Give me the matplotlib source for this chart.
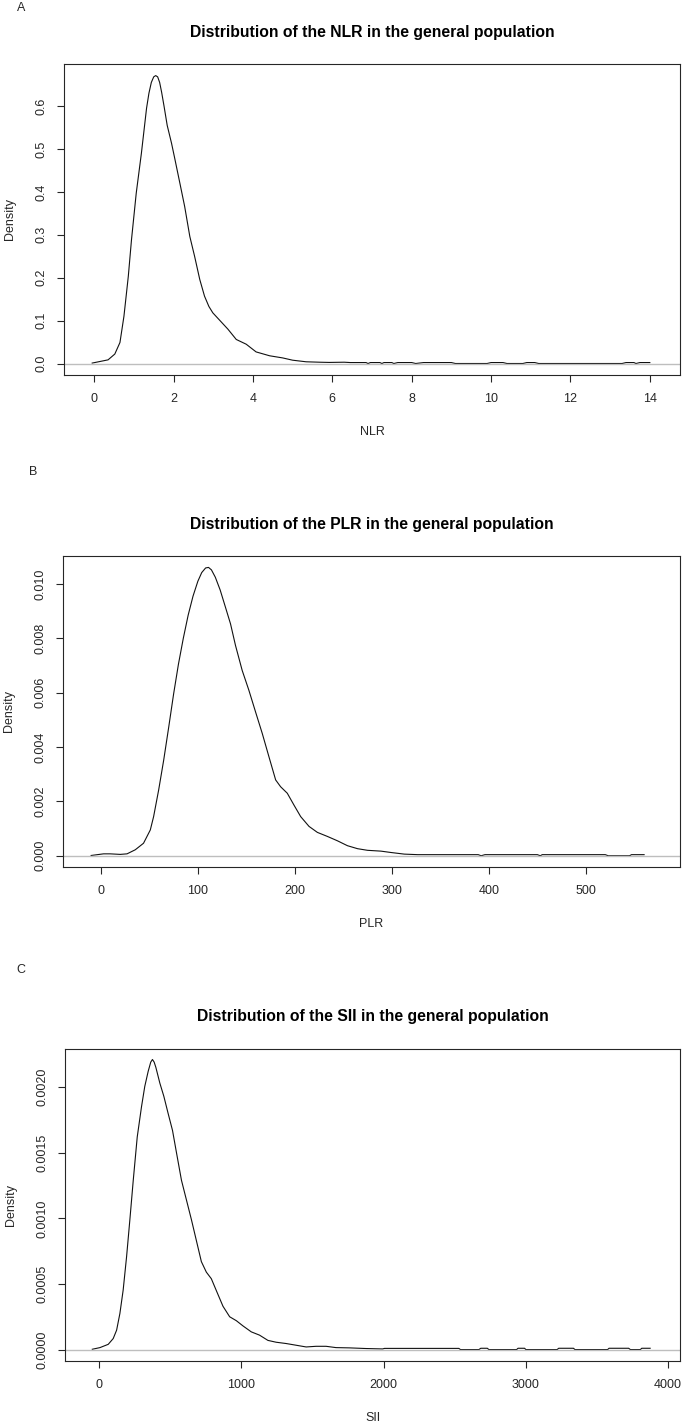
import matplotlib
matplotlib.use("Agg")
import matplotlib.pyplot as plt
import numpy as np

plt.rcParams['font.family'] = ['Liberation Sans', 'DejaVu Sans']

# density curves (main body + sparse tail)
nlr_x = [-0.05, 0.35, 0.52, 0.65, 0.75, 0.86, 0.94, 1.06, 1.19, 1.32, 1.38, 1.44, 1.50, 1.55,
         1.60, 1.65, 1.70, 1.76, 1.84, 1.95, 2.03, 2.16, 2.28, 2.41, 2.53, 2.66, 2.78, 2.89,
         2.99, 3.16, 3.37, 3.58, 3.83, 4.08, 4.42, 4.75, 5.0, 5.34, 5.68]
nlr_y = [0.001, 0.0085, 0.022, 0.049, 0.11, 0.203, 0.288, 0.397, 0.49, 0.595, 0.630, 0.655,
         0.668, 0.671, 0.668, 0.655, 0.632, 0.600, 0.555, 0.513, 0.478, 0.42, 0.366, 0.296,
         0.25, 0.196, 0.157, 0.133, 0.118, 0.101, 0.080, 0.056, 0.045, 0.027, 0.018, 0.013,
         0.0077, 0.004, 0.003]
nlr_tail_x = [5.92, 6.3, 6.45, 6.5, 6.85, 6.9, 6.96, 7.2, 7.25, 7.3, 7.5, 7.55, 7.65, 8.0, 8.1,
              8.3, 9.0, 9.1, 9.9, 10.0, 10.3, 10.4, 10.8, 10.9, 11.1, 11.2, 13.3, 13.4, 13.6,
              13.65, 13.75, 14.0]
nlr_tail_y = [0.0025, 0.003, 0.0022, 0.0022, 0.0022, 0.0, 0.0022, 0.0022, 0.0, 0.0022, 0.0022,
              0.0, 0.0022, 0.0022, 0.0, 0.0022, 0.0022, 0.0, 0.0, 0.0022, 0.0022, 0.0, 0.0,
              0.0022, 0.0022, 0.0, 0.0, 0.0022, 0.0022, 0.0, 0.0022, 0.0022]

plr_x = [-10, 2.8, 9.6, 20, 27, 35.5, 44, 51, 54.4, 59.6, 64.8, 70, 75, 80, 85, 90, 95,
         100, 104, 108, 111, 114, 118, 123, 128.5, 133.7, 138.8, 145.7, 152.6, 159.5, 166.4,
         173.3, 180.2, 185.3, 192.2, 199, 206, 214.6, 223.2, 233.6, 243.9, 254.2, 264.6,
         274.9, 288.7, 299, 312.8, 326.6]
plr_y = [0.00001, 0.00007, 0.00007, 0.00005, 0.00007, 0.00022, 0.00046, 0.00095, 0.00144,
         0.00242, 0.00352, 0.00474, 0.00595, 0.00705, 0.00800, 0.00885, 0.00955, 0.01010,
         0.01042, 0.01059, 0.01061, 0.01052, 0.01025, 0.00978, 0.00914, 0.00853, 0.00774,
         0.00682, 0.00609, 0.00529, 0.00450, 0.00364, 0.00279, 0.00254, 0.00230, 0.00187,
         0.00144, 0.00108, 0.00086, 0.00071, 0.00055, 0.00037, 0.00026, 0.00020, 0.00017,
         0.00012, 0.00006, 0.00004]
plr_tail_x = [340, 374, 389, 392, 396, 450, 453, 455, 520, 523, 545, 547, 560]
plr_tail_y = [0.00004, 0.00004, 0.00004, 0.0, 0.00004, 0.00004, 0.0, 0.00004, 0.00004, 0.0,
              0.0, 0.00004, 0.00004]

sii_x = [-49, 4.7, 63, 98, 122, 145, 168, 192, 215, 239, 267, 297, 320, 344, 362, 374, 386,
         398, 426, 454, 484, 515, 543, 578, 613, 648, 683, 718, 753, 788, 823, 870, 917, 964,
         1011, 1069, 1127, 1186, 1244, 1315, 1385, 1455, 1525, 1595, 1665, 1759, 1876, 1993]
sii_y = [0.0000025, 0.000015, 0.00004, 0.000084, 0.000148, 0.000275, 0.000453, 0.000707,
         0.000987, 0.00129, 0.00162, 0.00185, 0.002005, 0.00212, 0.00219, 0.00221, 0.00219,
         0.00215, 0.00203, 0.00193, 0.00180, 0.00167, 0.00150, 0.00129, 0.00114, 0.00099,
         0.00083, 0.00067, 0.00059, 0.00054, 0.00045, 0.00033, 0.00025, 0.00022, 0.00018,
         0.000135, 0.00011, 0.00007, 0.000056, 0.000046, 0.000033, 0.00002, 0.000025,
         0.000025, 0.000015, 0.000013, 0.000008, 0.000005]
sii_tail_x = [2006, 2529, 2540, 2670, 2683, 2729, 2740, 2935, 2945, 2991, 3000, 3220, 3231,
              3335, 3345, 3575, 3585, 3723, 3735, 3805, 3815, 3874]
sii_tail_y = [0.000009, 0.000009, 0.0, 0.0, 0.00001, 0.00001, 0.0, 0.0, 0.00001, 0.00001, 0.0,
              0.0, 0.00001, 0.00001, 0.0, 0.0, 0.00001, 0.00001, 0.0, 0.0, 0.00001, 0.00001]

panels = [
    # letter, name, x, y, tail x, tail y, xticks, yticks, ytick fmt, xlim, ylim, box (l, t, b px), letter pos
    ('A', 'NLR', nlr_x, nlr_y, nlr_tail_x, nlr_tail_y, np.arange(0, 15, 2),
     np.arange(0, 0.61, 0.1), '%.1f', (-0.76, 14.76), (-0.0268, 0.698), (64, 64, 375), (21, 8)),
    ('B', 'PLR', plr_x, plr_y, plr_tail_x, plr_tail_y, np.arange(0, 501, 100),
     np.arange(0, 0.0101, 0.002), '%.3f', (-39, 597), (-0.000414, 0.01103), (63, 556, 867), (33, 472)),
    ('C', 'SII', sii_x, sii_y, sii_tail_x, sii_tail_y, np.arange(0, 4001, 1000),
     np.arange(0, 0.00201, 0.0005), '%.4f', (-241, 4084), (-0.000087, 0.00229), (65, 1049, 1361), (21, 970)),
]

W, H = 685, 1425
fig = plt.figure(figsize=(W / 100, H / 100), dpi=100)
ink = '#262626'

for letter, name, x, y, tx, ty, xt, yt, fmt, xlim, ylim, box, lpos in panels:
    l, t, b = box
    r = 680
    ax = fig.add_axes([l / W, 1 - b / H, (r - l) / W, (b - t) / H])
    ax.plot(list(x) + list(tx), list(y) + list(ty), color='#111111', lw=0.8)
    # zero line on top, like R's plot.density
    ax.axhline(0, color='#bebebe', lw=1.0)
    ax.set_xlim(*xlim)
    ax.set_ylim(*ylim)

    ax.set_xticks(xt)
    ax.set_xticklabels([str(int(v)) for v in xt])
    ax.set_yticks(yt)
    ax.set_yticklabels([fmt % v for v in yt], rotation=90, va='center')
    ax.tick_params(axis='x', direction='out', length=5, width=0.8, color=ink,
                   labelsize=9, labelcolor=ink, pad=8)
    ax.tick_params(axis='y', direction='out', length=5, width=0.8, color=ink,
                   labelsize=9, labelcolor=ink, pad=7)
    for sp in ax.spines.values():
        sp.set_color(ink)
        sp.set_linewidth(0.8)

    hh = b - t
    ax.set_xlabel(name, fontsize=9, color=ink)
    ax.xaxis.set_label_coords(0.5, -51 / hh)
    ax.set_ylabel('Density', fontsize=9, color=ink)
    ax.yaxis.set_label_coords(-48 / (r - l), 0.5)

    ax.text(0.5, 1 + 32 / hh, 'Distribution of the %s in the general population' % name,
            transform=ax.transAxes, ha='center', va='center', fontsize=11.3,
            fontweight='bold', color='black')
    fig.text(lpos[0] / W, 1 - lpos[1] / H, letter, ha='center', va='center',
             fontsize=9, color=ink)

plt.savefig('out.png', dpi=100)
plt.close()
